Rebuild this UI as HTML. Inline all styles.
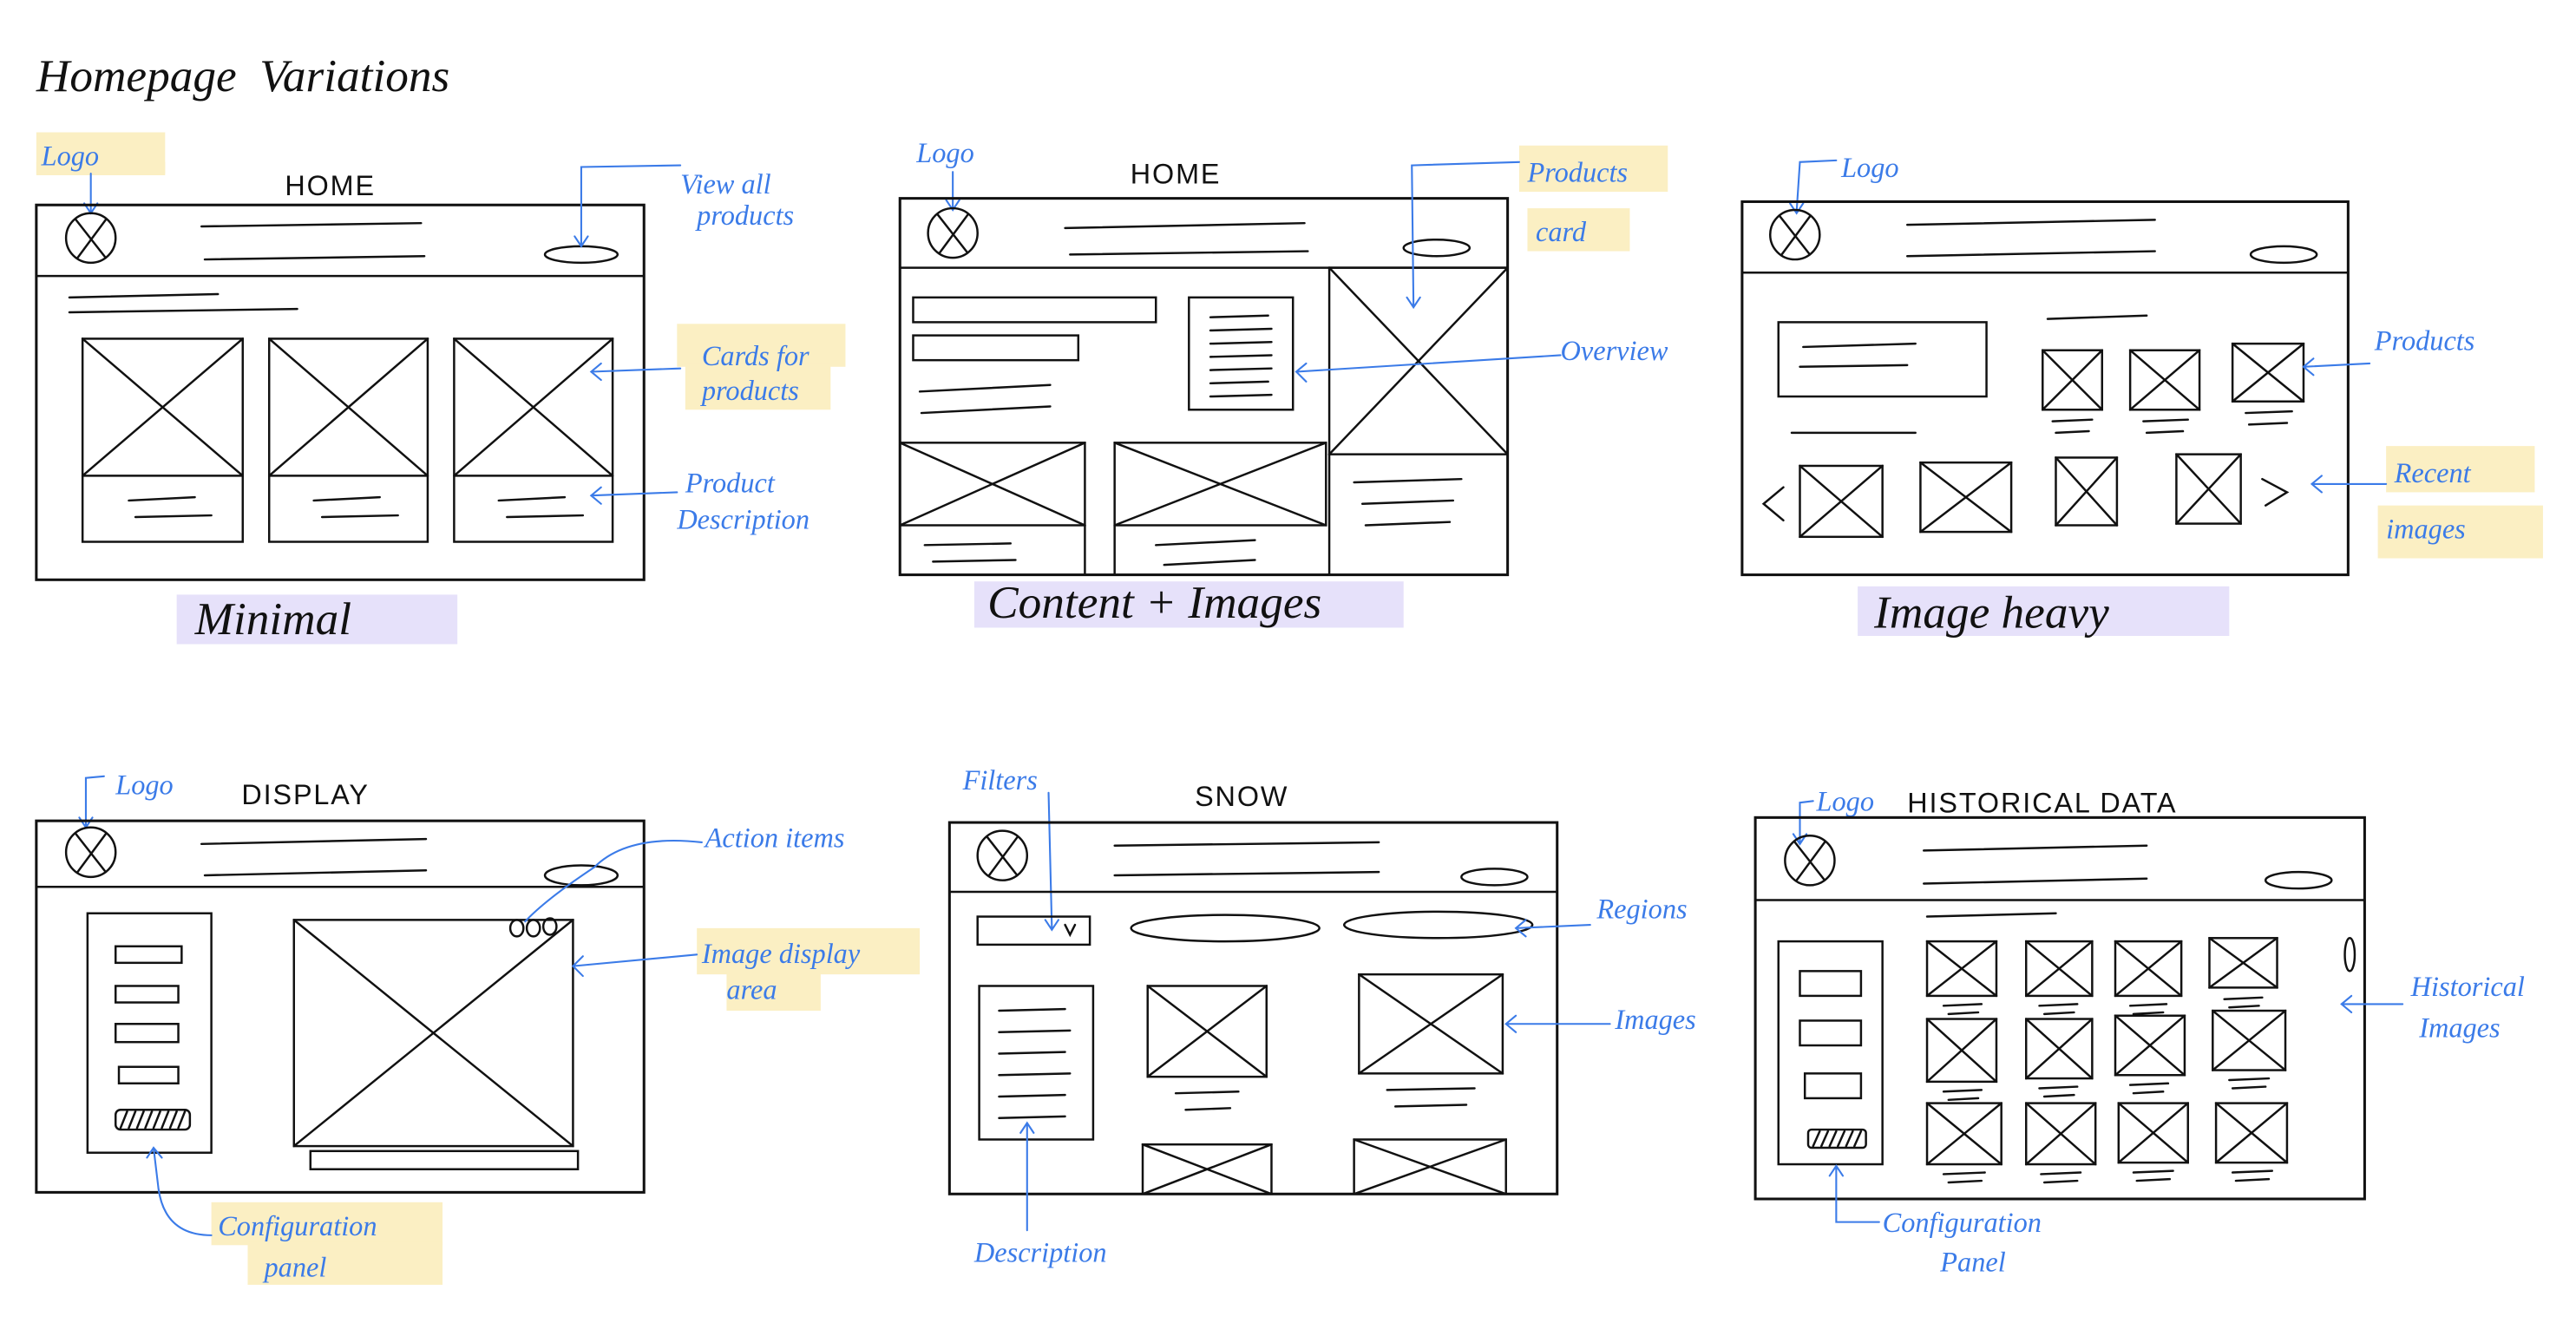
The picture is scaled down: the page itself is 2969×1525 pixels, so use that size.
<!DOCTYPE html>
<html><head><meta charset="utf-8"><style>
html,body{margin:0;padding:0;background:#fff;}
svg{display:block;}
.k{stroke:#111;stroke-width:1.3;fill:none;stroke-linecap:round;}
.t{stroke:#111;stroke-width:1.6;fill:none;stroke-linecap:round;}
.b{stroke:#3b7be8;stroke-width:1.1;fill:none;stroke-linecap:round;}
.bl{fill:#3b7be8;font-family:"Liberation Serif",serif;font-style:italic;font-size:17px;}
.hd{fill:#111;font-family:"Liberation Sans",sans-serif;font-size:17px;letter-spacing:1px;}
.cu{fill:#111;font-family:"Liberation Serif",serif;font-style:italic;font-size:28px;}
.y{fill:#fbefc3;}
.p{fill:#e6e1fa;}
</style></head><body>
<svg width="2969" height="1525" viewBox="0 0 1560 801" xmlns="http://www.w3.org/2000/svg">
<defs>
<g id="logo"><ellipse cx="0" cy="0" rx="15" ry="15" class="k"/><path d="M-9,-11 L9,12 M9,-11 L-8,12" class="k"/></g>
</defs>
<text x="22" y="55" class="cu" font-size="36">Homepage&#160;&#160;Variations</text>

<!-- Panel 1 Minimal -->
<rect x="22" y="98" width="78" height="8" class="y"/>
<rect x="22" y="80" width="78" height="25" class="y"/>
<text x="25" y="100" class="bl">Logo</text>
<path d="M55,105 L55,128 M51,123 L55,129 L59,123" class="b"/>
<text x="200" y="118" class="hd" text-anchor="middle">HOME</text>
<rect x="22" y="124" width="368" height="227" class="t"/>
<line x1="22" y1="167" x2="390" y2="167" class="k"/>
<use href="#logo" x="55" y="144"/>
<path d="M122,137 L255,135 M124,157 L257,155" class="k"/>
<ellipse cx="352" cy="154" rx="22" ry="5" class="k"/>
<path d="M42,180 L132,178 M42,189 L180,187" class="k"/>
<g class="k">
<rect x="50" y="205" width="97" height="123"/><path d="M50,205 L147,288 M147,205 L50,288 M50,288 L147,288 M78,303 L118,301 M82,313 L128,312"/>
<rect x="163" y="205" width="96" height="123"/><path d="M163,205 L259,288 M259,205 L163,288 M163,288 L259,288 M190,303 L230,301 M195,313 L241,312"/>
<rect x="275" y="205" width="96" height="123"/><path d="M275,205 L371,288 M371,205 L275,288 M275,288 L371,288 M302,303 L342,301 M307,313 L353,312"/>
</g>
<text x="412" y="117" class="bl" font-size="15">View all</text>
<text x="422" y="136" class="bl" font-size="15">products</text>
<path d="M412,100 L352,101 L352,148 M348,143 L352,149 L356,143" class="b"/>
<rect x="410" y="196" width="102" height="26" class="y"/><rect x="415" y="220" width="88" height="28" class="y"/>
<text x="425" y="221" class="bl" font-size="15">Cards for</text>
<text x="425" y="242" class="bl" font-size="15">products</text>
<path d="M412,223 L358,225 M364,220 L358,225 L364,230" class="b"/>
<text x="415" y="298" class="bl" font-size="15">Product</text>
<text x="410" y="320" class="bl" font-size="15">Description</text>
<path d="M410,298 L358,300 M364,295 L358,300 L364,305" class="b"/>
<rect x="107" y="360" width="170" height="30" class="p"/>
<text x="118" y="384" class="cu">Minimal</text>

<!-- Panel 2 Content + Images -->
<rect x="553" y="80" width="50" height="26" class="y" opacity="0"/>
<text x="555" y="98" class="bl">Logo</text>
<path d="M577,104 L577,126 M573,121 L577,127 L581,121" class="b"/>
<text x="712" y="111" class="hd" text-anchor="middle">HOME</text>
<rect x="545" y="120" width="368" height="228" class="t"/>
<line x1="545" y1="162" x2="913" y2="162" class="k"/>
<use href="#logo" x="577" y="141"/>
<path d="M645,138 L790,135 M648,154 L792,152" class="k"/>
<ellipse cx="870" cy="150" rx="20" ry="5" class="k"/>
<g class="k">
<rect x="553" y="180" width="147" height="15"/><rect x="553" y="203" width="100" height="15"/>
<path d="M557,237 L636,233 M558,250 L636,246"/>
<rect x="720" y="180" width="63" height="68"/>
<path d="M733,192 L768,191 M733,200 L770,199 M733,208 L770,207 M733,216 L770,215 M733,224 L770,223 M733,232 L768,231 M733,240 L770,239"/>
<rect x="805" y="162" width="108" height="113"/><path d="M805,162 L913,275 M913,162 L805,275"/>
<line x1="805" y1="275" x2="805" y2="348"/>
<path d="M820,292 L885,290 M825,305 L880,303 M827,318 L878,316"/>
<rect x="545" y="268" width="112" height="50"/><path d="M545,268 L657,318 M657,268 L545,318"/>
<line x1="657" y1="318" x2="657" y2="348"/><path d="M560,330 L612,329 M565,340 L615,339"/>
<rect x="675" y="268" width="128" height="50"/><path d="M675,268 L803,318 M803,268 L675,318"/>
<line x1="675" y1="318" x2="675" y2="348"/><path d="M700,330 L760,327 M705,342 L760,339"/>
</g>
<rect x="920" y="88" width="90" height="28" class="y"/><rect x="925" y="126" width="62" height="26" class="y"/>
<text x="925" y="110" class="bl">Products</text>
<text x="930" y="146" class="bl">card</text>
<path d="M920,98 L855,100 L856,185 M852,180 L856,186 L860,180" class="b"/>
<text x="945" y="218" class="bl">Overview</text>
<path d="M945,215 L785,225 M791,220 L785,225 L791,231" class="b"/>
<rect x="590" y="352" width="260" height="28" class="p"/>
<text x="598" y="374" class="cu" font-size="24">Content + Images</text>

<!-- Panel 3 Image heavy -->
<text x="1115" y="107" class="bl">Logo</text>
<path d="M1112,97 L1090,98 L1088,128 M1084,123 L1088,129 L1092,123" class="b"/>
<rect x="1055" y="122" width="367" height="226" class="t"/>
<line x1="1055" y1="165" x2="1422" y2="165" class="k"/>
<use href="#logo" x="1087" y="142"/>
<path d="M1155,136 L1305,133 M1155,155 L1305,152" class="k"/>
<ellipse cx="1383" cy="154" rx="20" ry="5" class="k"/>
<g class="k">
<rect x="1077" y="195" width="126" height="45"/><path d="M1092,210 L1160,208 M1090,222 L1155,221"/>
<path d="M1085,262 L1160,262 M1240,193 L1300,191"/>
<rect x="1237" y="212" width="36" height="36"/><path d="M1237,212 L1273,248 M1273,212 L1237,248 M1243,255 L1267,254 M1245,262 L1265,261"/>
<rect x="1290" y="212" width="42" height="36"/><path d="M1290,212 L1332,248 M1332,212 L1290,248 M1298,255 L1325,254 M1300,262 L1322,261"/>
<rect x="1352" y="208" width="43" height="35"/><path d="M1352,208 L1395,243 M1395,208 L1352,243 M1360,250 L1388,249 M1362,257 L1385,256"/>
<path d="M1080,295 L1068,305 L1080,315"/>
<rect x="1090" y="282" width="50" height="43"/><path d="M1090,282 L1140,325 M1140,282 L1090,325"/>
<rect x="1163" y="280" width="55" height="42"/><path d="M1163,280 L1218,322 M1218,280 L1163,322"/>
<rect x="1245" y="277" width="37" height="41"/><path d="M1245,277 L1282,318 M1282,277 L1245,318"/>
<rect x="1318" y="275" width="39" height="42"/><path d="M1318,275 L1357,317 M1357,275 L1318,317"/>
<path d="M1370,290 L1385,298 L1372,306"/>
</g>
<text x="1438" y="212" class="bl">Products</text>
<path d="M1435,220 L1395,222 M1401,217 L1395,222 L1401,227" class="b"/>
<rect x="1445" y="270" width="90" height="28" class="y"/><rect x="1440" y="306" width="100" height="32" class="y"/>
<text x="1450" y="292" class="bl">Recent</text>
<text x="1445" y="326" class="bl">images</text>
<path d="M1445,293 L1400,293 M1406,288 L1400,293 L1406,298" class="b"/>
<rect x="1125" y="355" width="225" height="30" class="p"/>
<text x="1135" y="380" class="cu" font-size="26">Image heavy</text>

<!-- Panel 4 Display -->
<text x="70" y="481" class="bl">Logo</text>
<path d="M63,470 L52,471 L52,500 M48,495 L52,501 L56,495" class="b"/>
<text x="185" y="487" class="hd" text-anchor="middle">DISPLAY</text>
<rect x="22" y="497" width="368" height="225" class="t"/>
<line x1="22" y1="537" x2="390" y2="537" class="k"/>
<use href="#logo" x="55" y="516"/>
<path d="M122,511 L258,508 M124,530 L258,527" class="k"/>
<ellipse cx="352" cy="530" rx="22" ry="6" class="k"/>
<g class="k">
<rect x="53" y="553" width="75" height="145"/>
<rect x="70" y="573" width="40" height="10"/><rect x="70" y="597" width="38" height="10"/><rect x="70" y="620" width="38" height="11"/><rect x="72" y="646" width="36" height="10"/>
<rect x="70" y="672" width="45" height="12" rx="3"/>
<path d="M73,683 L77,673 M78,683 L82,673 M83,683 L87,673 M88,683 L92,673 M93,683 L97,673 M98,683 L102,673 M103,683 L107,673 M108,683 L112,673"/>
<rect x="178" y="557" width="169" height="137"/><path d="M178,557 L347,694 M347,557 L178,694"/>
<ellipse cx="313" cy="562" rx="4" ry="5"/><ellipse cx="323" cy="562" rx="4" ry="5"/><ellipse cx="333" cy="561" rx="4" ry="5"/>
<rect x="188" y="697" width="162" height="11"/>
</g>
<text x="427" y="513" class="bl">Action items</text>
<path d="M425,510 Q380,505 360,525 Q330,545 318,558" class="b"/>
<rect x="422" y="562" width="135" height="28" class="y"/><rect x="440" y="588" width="57" height="24" class="y"/>
<text x="425" y="583" class="bl">Image display</text>
<text x="440" y="605" class="bl">area</text>
<path d="M422,578 L347,585 M353,579 L347,585 L353,591" class="b"/>
<rect x="128" y="728" width="140" height="26" class="y"/><rect x="150" y="752" width="118" height="26" class="y"/>
<text x="132" y="748" class="bl">Configuration</text>
<text x="160" y="773" class="bl">panel</text>
<path d="M128,748 Q100,748 96,720 L93,695 M89,701 L93,695 L98,701" class="b"/>

<!-- Panel 5 Snow -->
<text x="583" y="478" class="bl">Filters</text>
<path d="M635,480 L637,562 M633,557 L637,563 L641,557" class="b"/>
<text x="752" y="488" class="hd" text-anchor="middle">SNOW</text>
<rect x="575" y="498" width="368" height="225" class="t"/>
<line x1="575" y1="540" x2="943" y2="540" class="k"/>
<use href="#logo" x="607" y="518"/>
<path d="M675,512 L835,510 M675,530 L835,528" class="k"/>
<ellipse cx="905" cy="531" rx="20" ry="5" class="k"/>
<g class="k">
<rect x="592" y="555" width="68" height="17"/><path d="M645,560 L648,566 L651,560"/>
<ellipse cx="742" cy="562" rx="57" ry="8"/><ellipse cx="871" cy="560" rx="57" ry="8"/>
<rect x="593" y="597" width="69" height="93"/>
<path d="M605,612 L645,611 M605,625 L648,624 M605,638 L645,637 M605,651 L648,650 M605,664 L645,663 M605,677 L645,676"/>
<rect x="695" y="597" width="72" height="55"/><path d="M695,597 L767,652 M767,597 L695,652 M712,662 L750,661 M718,672 L745,671"/>
<rect x="823" y="590" width="87" height="60"/><path d="M823,590 L910,650 M910,590 L823,650 M840,660 L893,659 M845,670 L888,669"/>
<rect x="692" y="693" width="78" height="30"/><path d="M692,693 L770,723 M770,693 L692,723"/>
<rect x="820" y="690" width="92" height="33"/><path d="M820,690 L912,723 M912,690 L820,723"/>
</g>
<text x="967" y="556" class="bl">Regions</text>
<path d="M963,560 L918,562 M924,557 L918,562 L924,567" class="b"/>
<text x="978" y="623" class="bl">Images</text>
<path d="M975,620 L912,620 M918,615 L912,620 L918,625" class="b"/>
<text x="590" y="764" class="bl">Description</text>
<path d="M622,745 L622,680 M618,686 L622,680 L626,686" class="b"/>

<!-- Panel 6 Historical data -->
<text x="1100" y="491" class="bl" font-size="14">Logo</text>
<path d="M1098,485 L1090,486 L1090,510 M1086,505 L1090,511 L1094,505" class="b"/>
<text x="1155" y="492" class="hd">HISTORICAL DATA</text>
<rect x="1063" y="495" width="369" height="231" class="t"/>
<line x1="1063" y1="545" x2="1432" y2="545" class="k"/>
<use href="#logo" x="1096" y="521"/>
<path d="M1165,515 L1300,512 M1165,535 L1300,532" class="k"/>
<ellipse cx="1392" cy="533" rx="20" ry="5" class="k"/>
<g class="k">
<path d="M1167,555 L1245,553"/>
<rect x="1077" y="570" width="63" height="135"/>
<rect x="1090" y="588" width="37" height="15"/><rect x="1090" y="618" width="37" height="15"/><rect x="1093" y="650" width="34" height="15"/>
<rect x="1095" y="684" width="35" height="11" rx="2"/>
<path d="M1098,694 L1102,685 M1103,694 L1107,685 M1108,694 L1112,685 M1113,694 L1117,685 M1118,694 L1122,685 M1123,694 L1127,685"/>
<ellipse cx="1423" cy="578" rx="3" ry="10"/>
</g>
<g class="k">
<rect x="1167" y="570" width="42" height="33"/><path d="M1167,570 L1209,603 M1209,570 L1167,603 M1177,609 L1200,608 M1180,614 L1198,613"/>
<rect x="1227" y="570" width="40" height="33"/><path d="M1227,570 L1267,603 M1267,570 L1227,603 M1235,609 L1258,608 M1238,614 L1256,613"/>
<rect x="1281" y="570" width="40" height="33"/><path d="M1281,570 L1321,603 M1321,570 L1281,603 M1290,609 L1312,608 M1292,614 L1310,613"/>
<rect x="1338" y="568" width="41" height="30"/><path d="M1338,568 L1379,598 M1379,568 L1338,598 M1347,605 L1370,604 M1350,610 L1368,609"/>
<rect x="1167" y="617" width="42" height="38"/><path d="M1167,617 L1209,655 M1209,617 L1167,655 M1177,661 L1200,660 M1180,666 L1198,665"/>
<rect x="1227" y="617" width="40" height="36"/><path d="M1227,617 L1267,653 M1267,617 L1227,653 M1235,659 L1258,658 M1238,664 L1256,663"/>
<rect x="1281" y="615" width="42" height="36"/><path d="M1281,615 L1323,651 M1323,615 L1281,651 M1290,657 L1313,656 M1292,662 L1310,661"/>
<rect x="1340" y="612" width="44" height="36"/><path d="M1340,612 L1384,648 M1384,612 L1340,648 M1350,654 L1374,653 M1352,659 L1372,658"/>
<rect x="1167" y="668" width="45" height="37"/><path d="M1167,668 L1212,705 M1212,668 L1167,705 M1177,711 L1202,710 M1180,716 L1200,715"/>
<rect x="1227" y="668" width="42" height="37"/><path d="M1227,668 L1269,705 M1269,668 L1227,705 M1236,711 L1260,710 M1238,716 L1258,715"/>
<rect x="1283" y="668" width="42" height="36"/><path d="M1283,668 L1325,704 M1325,668 L1283,704 M1292,710 L1316,709 M1294,715 L1314,714"/>
<rect x="1342" y="668" width="43" height="36"/><path d="M1342,668 L1385,704 M1385,668 L1342,704 M1352,710 L1376,709 M1354,715 L1374,714"/>
</g>
<text x="1460" y="603" class="bl" font-size="15">Historical</text>
<text x="1465" y="628" class="bl" font-size="15">Images</text>
<path d="M1455,608 L1418,608 M1424,603 L1418,608 L1424,613" class="b"/>
<text x="1140" y="746" class="bl" font-size="15">Configuration</text>
<text x="1175" y="770" class="bl" font-size="15">Panel</text>
<path d="M1138,740 L1112,740 L1112,706 M1108,712 L1112,706 L1116,712" class="b"/>
</svg>
</body></html>
